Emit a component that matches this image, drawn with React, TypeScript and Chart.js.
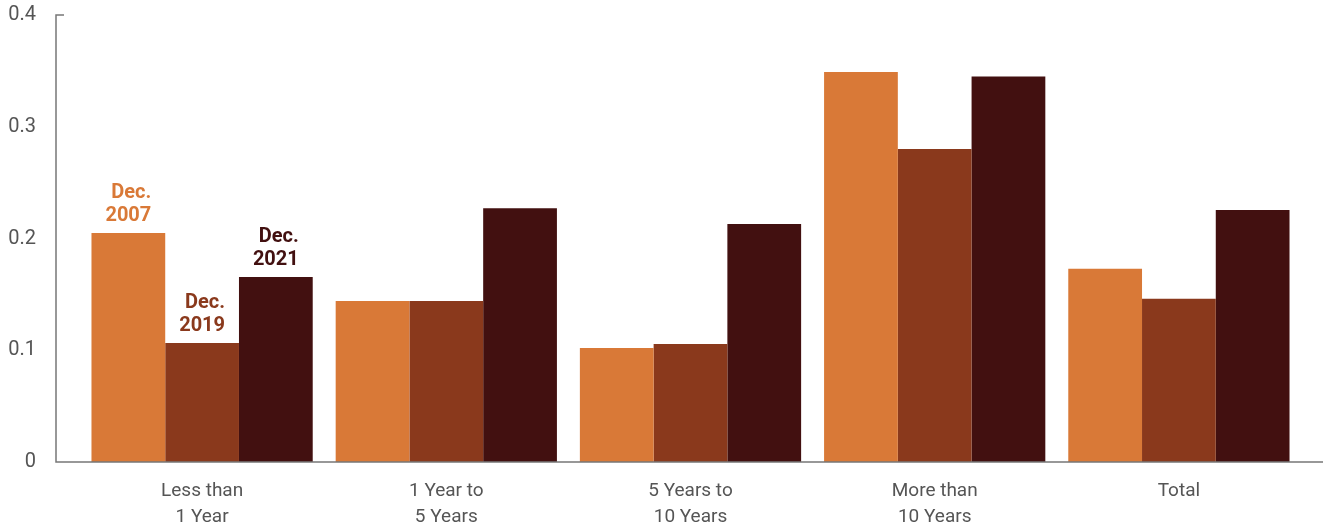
import React, { useEffect, useRef } from "react";
import { Chart, registerables } from "chart.js";

Chart.register(...registerables);

const categories: string[][] = [
  ["Less than", "1 Year"],
  ["1 Year to", "5 Years"],
  ["5 Years to", "10 Years"],
  ["More than", "10 Years"],
  ["Total"],
];
const seriesNames = ["Dec. 2007", "Dec. 2019", "Dec. 2021"];
const dec2007 = [0.205, 0.144, 0.102, 0.349, 0.173];
const dec2019 = [0.1065, 0.144, 0.1055, 0.28, 0.146];
const dec2021 = [0.1655, 0.227, 0.213, 0.345, 0.2255];
const yTicks = [0, 0.1, 0.2, 0.3, 0.4];
const colors = ["#D97937", "#8A391C", "#421010"];

const FONT = "Roboto";

const annotate = {
  id: "annotate",
  afterDatasetsDraw(chart: any) {
    const ctx = chart.ctx;
    const { left, top, bottom } = chart.chartArea;
    ctx.save();
    ctx.strokeStyle = "#777";
    ctx.lineWidth = 1.5;
    const ax = left - 24;
    ctx.beginPath();
    ctx.moveTo(ax + 8, top);
    ctx.lineTo(ax, top);
    ctx.lineTo(ax, bottom);
    ctx.lineTo(chart.width, bottom);
    ctx.stroke();
    ctx.font = `bold 20px ${FONT}`;
    ctx.textBaseline = "middle";
    ctx.textAlign = "right";
    for (let d = 0; d < 3; d++) {
      const bar = chart.getDatasetMeta(d).data[0];
      const [l1, l2] = seriesNames[d].split(" ");
      const w = ctx.measureText(l2).width;
      const rx = bar.x + w / 2;
      ctx.fillStyle = colors[d];
      ctx.fillText(l1, rx, bar.y - 40);
      ctx.fillText(l2, rx, bar.y - 17);
    }
    ctx.restore();
  },
};

export default function App() {
  const ref = useRef<HTMLCanvasElement>(null);
  useEffect(() => {
    const chart = new Chart(ref.current!, {
      type: "bar",
      data: {
        labels: categories,
        datasets: [dec2007, dec2019, dec2021].map((d, i) => ({
          label: seriesNames[i],
          data: d,
          backgroundColor: colors[i],
          borderColor: colors[i],
          borderWidth: 0,
          barPercentage: 1,
          categoryPercentage: 0.906,
        })),
      },
      options: {
        animation: false,
        responsive: false,
        maintainAspectRatio: false,
        layout: { padding: { top: 15, right: 22, bottom: 0, left: 0 } },
        plugins: { legend: { display: false }, tooltip: { enabled: false } },
        scales: {
          x: {
            grid: { display: false, drawTicks: false },
            border: { display: false },
            ticks: {
              padding: 17,
              color: "#555",
              font: { family: FONT, size: 19, lineHeight: 1.33 },
              maxRotation: 0,
            },
            afterFit: (s: any) => {
              s.height = 63;
              s.paddingLeft = 0;
              s.paddingRight = 0;
              s.paddingTop = 0;
              s.paddingBottom = 0;
            },
          },
          y: {
            min: 0,
            max: 0.4,
            afterBuildTicks: (s: any) => {
              s.ticks = yTicks.map((v) => ({ value: v }));
            },
            grid: { display: false, drawTicks: false },
            border: { display: false },
            ticks: {
              padding: 44,
              color: "#555",
              font: { family: FONT, size: 20 },
              callback: (v: any) => String(Number(v)),
            },
            afterFit: (s: any) => {
              s.width = 80;
              s.paddingTop = 0;
              s.paddingBottom = 0;
              s.paddingLeft = 0;
              s.paddingRight = 0;
            },
          },
        },
      },
      plugins: [annotate],
    });
    return () => chart.destroy();
  }, []);
  return (
    <div style={{ position: "fixed", left: 0, top: 0, width: 1323, height: 525 }}>
      <canvas ref={ref} width={1323} height={525} />
    </div>
  );
}
